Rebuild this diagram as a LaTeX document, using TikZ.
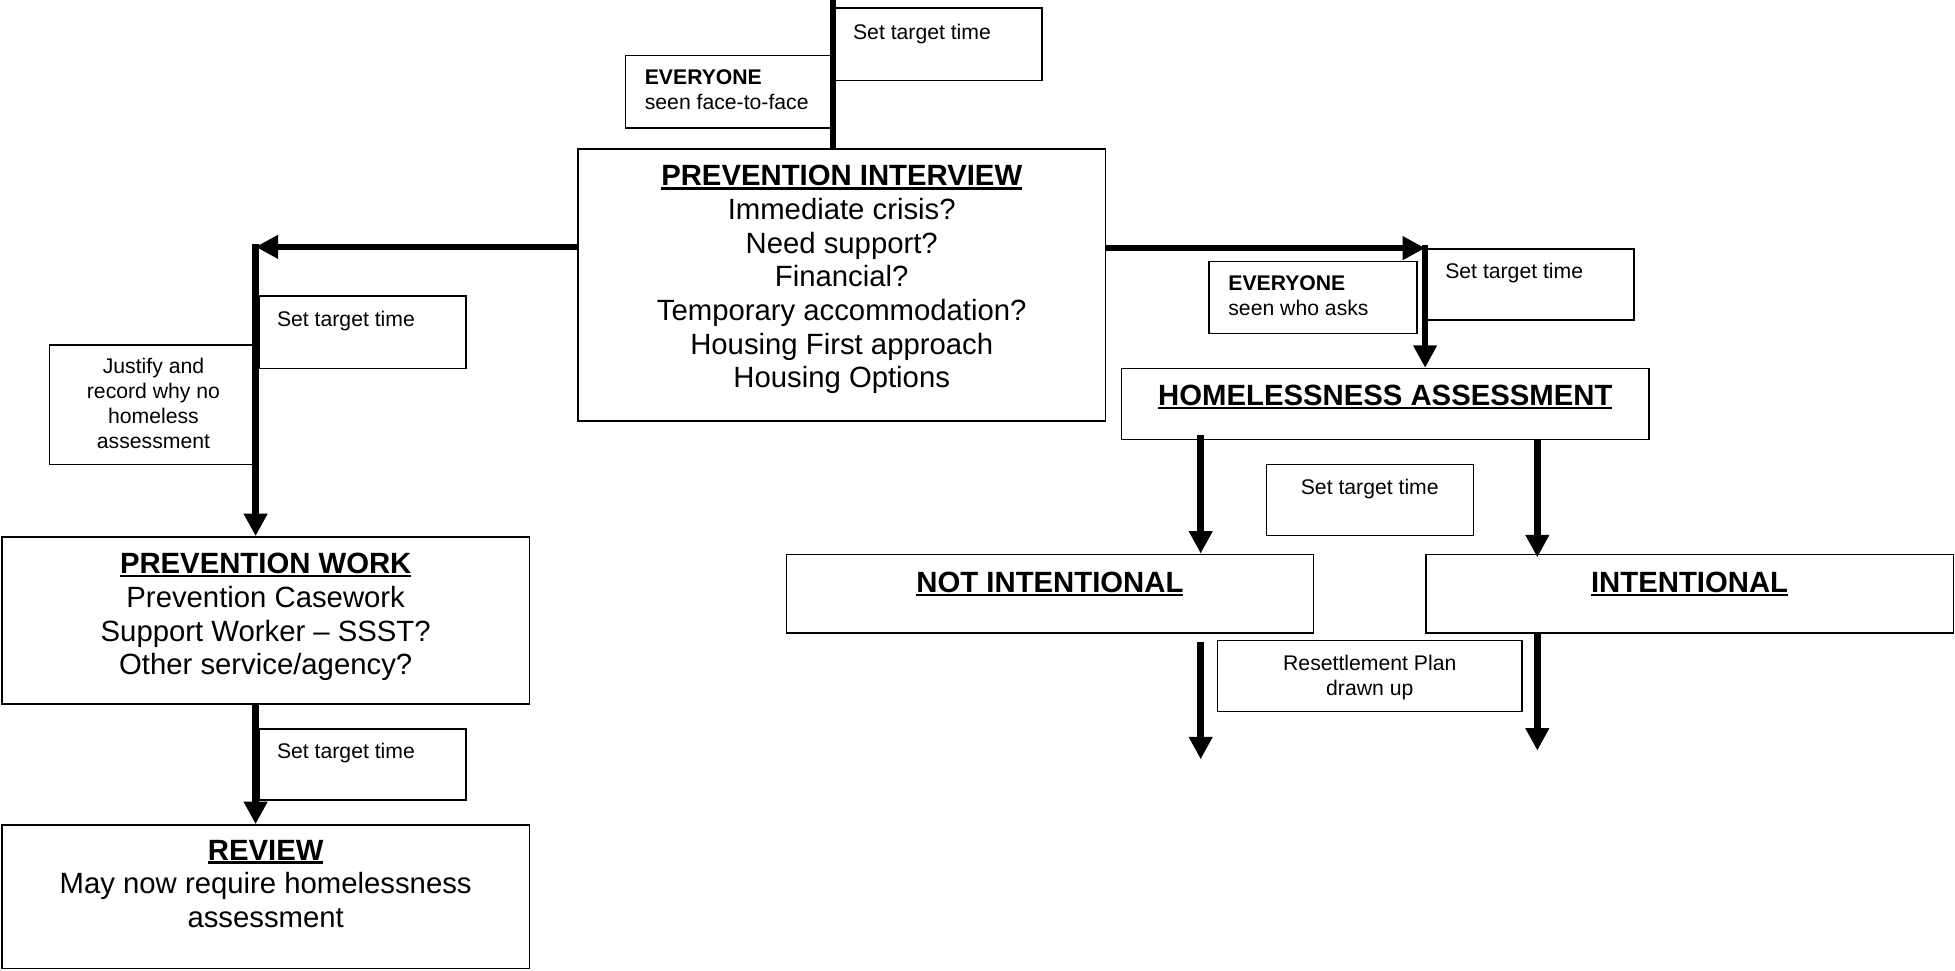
\documentclass[tikz,border=0pt]{standalone}
\usepackage{fontspec}
\setmainfont{Liberation Sans}
\usetikzlibrary{arrows.meta}
\newcommand\bigf{\fontsize{23.5}{27}\selectfont}
\newcommand\smallf{\fontsize{17}{20}\selectfont}
\newcommand\ulbox[1]{\leavevmode\setbox0=\hbox{#1}\rlap{\rule[-3pt]{\wd0}{2pt}}\box0}
\tikzset{
  box/.style={draw=black, line width=1.2pt, inner sep=0pt, anchor=north west},
  flow/.style={line width=5.2pt, -{Triangle[length=18pt,width=18pt]}},
  plainline/.style={line width=5.2pt},
  bigtxt/.style={font=\bigf, align=center, inner sep=0pt, anchor=north},
  smalltxt/.style={font=\smallf, align=left, inner sep=0pt, anchor=north west},
  smallctr/.style={font=\smallf, align=center, inner sep=0pt, anchor=north}
}
\begin{document}
\begin{tikzpicture}[x=1pt,y=-1pt]
\useasboundingbox (0,0) rectangle (1568,778);

% main boxes
\node[box, minimum width=423pt, minimum height=218pt] (pi) at (463,119) {};
\node[box, minimum width=423pt, minimum height=134pt] (pw) at (1,430) {};
\node[box, minimum width=423pt, minimum height=115pt] (rv) at (1,661) {};
\node[box, minimum width=423pt, minimum height=57pt] (ha) at (899,295) {};
\node[box, minimum width=423pt, minimum height=63pt] (ni) at (630,444) {};
\node[box, minimum width=423pt, minimum height=63pt] (int) at (1143,444) {};

% label boxes
\node[box, minimum width=166pt, minimum height=58pt] (st1) at (669,6) {};
\node[box, minimum width=167pt, minimum height=58pt] (ev1) at (501,44) {};
\node[box, minimum width=166pt, minimum height=58pt] (st2) at (207,237) {};
\node[box, minimum width=167pt, minimum height=96pt] (just) at (39,276) {};
\node[box, minimum width=166pt, minimum height=57pt] (st3) at (207,584) {};
\node[box, minimum width=167pt, minimum height=58pt] (ev2) at (969,209) {};
\node[box, minimum width=167pt, minimum height=57pt] (st4) at (1143,199) {};
\node[box, minimum width=166pt, minimum height=57pt] (st5) at (1015,372) {};
\node[box, minimum width=244pt, minimum height=57pt] (rs) at (976,513) {};

% texts of main boxes
\node[bigtxt] (pit) at ([yshift=-13.5pt]pi.north) {\textbf{\ulbox{PREVENTION INTERVIEW}}\\Immediate crisis?\\Need support?\\Financial?\\Temporary accommodation?\\Housing First approach\\Housing Options};
\node[bigtxt] (pwt) at ([yshift=-13.5pt]pw.north) {\textbf{\ulbox{PREVENTION WORK}}\\Prevention Casework\\Support Worker -- SSST?\\Other service/agency?};
\node[bigtxt] (rvt) at ([yshift=-12.5pt]rv.north) {\textbf{\ulbox{REVIEW}}\\May now require homelessness\\assessment};
\node[bigtxt] (hat) at ([yshift=-13.5pt]ha.north) {\textbf{\ulbox{HOMELESSNESS ASSESSMENT}}};
\node[bigtxt] (nit) at ([yshift=-14.5pt]ni.north) {\textbf{\ulbox{NOT INTENTIONAL}}};
\node[bigtxt] (intt) at ([yshift=-14.5pt]int.north) {\textbf{\ulbox{INTENTIONAL}}};

% texts of label boxes
\node[smalltxt] (st1t) at ([shift={(15pt,-13pt)}]st1.north west) {Set target time};
\node[smalltxt] (ev1t) at ([shift={(16pt,-12pt)}]ev1.north west) {\textbf{EVERYONE}\\seen face-to-face};
\node[smalltxt] (st2t) at ([shift={(15pt,-12pt)}]st2.north west) {Set target time};
\node[smallctr] (justt) at ([yshift=-11pt]just.north) {Justify and\\record why no\\homeless\\assessment};
\node[smalltxt] (st3t) at ([shift={(15pt,-12pt)}]st3.north west) {Set target time};
\node[smalltxt] (ev2t) at ([shift={(16pt,-12pt)}]ev2.north west) {\textbf{EVERYONE}\\seen who asks};
\node[smalltxt] (st4t) at ([shift={(16pt,-12pt)}]st4.north west) {Set target time};
\node[smallctr] (st5t) at ([yshift=-12pt]st5.north) {Set target time};
\node[smallctr] (rst) at ([yshift=-12pt]rs.north) {Resettlement Plan\\drawn up};

% connectors
\coordinate (top) at (668,0);
\draw[plainline] (top) -- (top |- pi.north);

\coordinate (lc) at (205,198);
\draw[flow] (lc -| pi.west) -- (lc);
\draw[flow] ([yshift=2.6pt]lc) -- (lc |- pw.north);
\draw[flow] (lc |- pw.south) -- (lc |- rv.north);

\coordinate (rc) at (1143,199);
\draw[flow] (rc -| pi.east) -- (rc);
\draw[flow] ([yshift=2.6pt]rc) -- (rc |- ha.north);

\coordinate (ha1) at (963,349);
\coordinate (ha2) at (1233,349);
\draw[flow] (ha1) -- (ha1 |- ni.north);
\draw[flow] (ha2 |- ha.south) -- ([yshift=-3pt]ha2 |- int.north);

\coordinate (nfree) at (963,609);
\coordinate (nstart) at (963,515);
\draw[flow] (nstart) -- (nfree);
\coordinate (ifree) at (1233,602);
\draw[flow] (ifree |- int.south) -- (ifree);
\end{tikzpicture}
\end{document}
